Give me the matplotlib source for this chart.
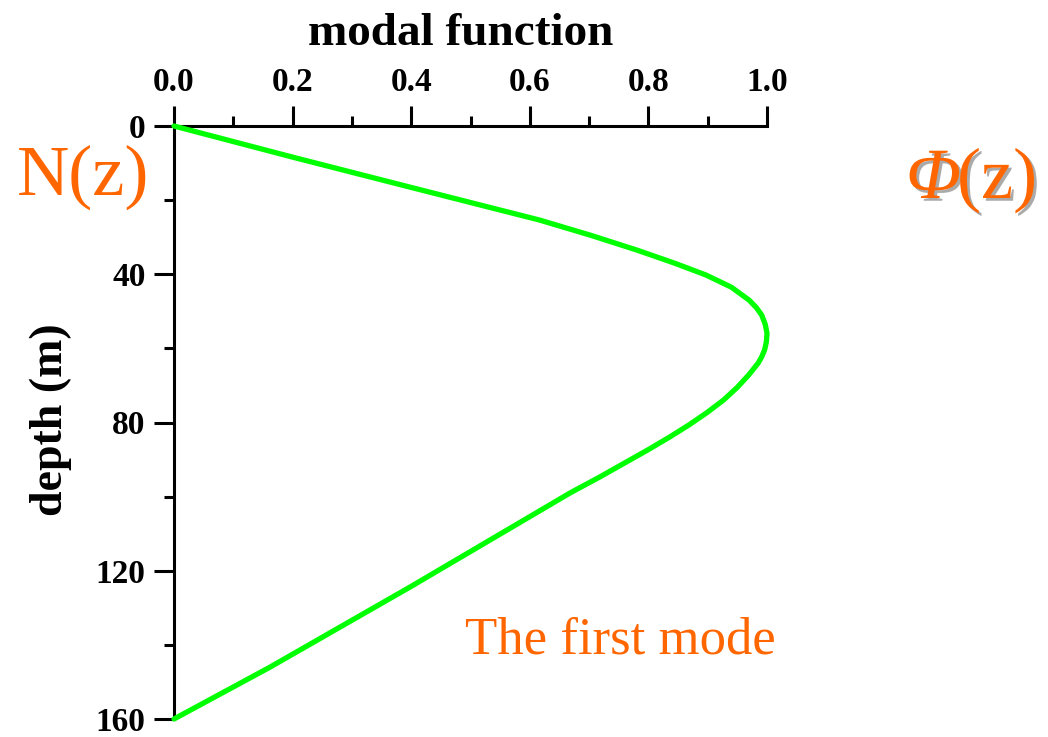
import numpy as np
import matplotlib
matplotlib.use("Agg")
import matplotlib.pyplot as plt
import matplotlib.patheffects as pe
from matplotlib.ticker import MultipleLocator, FormatStrFormatter

# first-mode profile, depth (m) against normalised amplitude
depth = [0, 8.4, 16.7, 25.4, 29.5, 33.5, 37.0, 40.2, 43.5, 47.0, 49.0,
         51.0, 53.5, 55.9, 58.2, 60.4, 62.3, 64.0, 67.2, 70.5, 73.9,
         77.3, 80.7, 84.0, 87.4, 94.7, 99.0, 107.0, 124.4, 146.0, 160.0]
phi = [0.0, 0.200, 0.403, 0.617, 0.703, 0.781, 0.844, 0.897, 0.940, 0.970,
       0.982, 0.991, 0.997, 1.0, 0.999, 0.996, 0.991, 0.985, 0.969, 0.950,
       0.927, 0.899, 0.868, 0.835, 0.799, 0.718, 0.668, 0.583, 0.398,
       0.162, 0.0]

x_ticks = [0.0, 0.2, 0.4, 0.6, 0.8, 1.0]
y_ticks = [0, 40, 80, 120, 160]

ORANGE = "#ff6600"
SERIF = "Liberation Serif"

plt.rcParams["font.family"] = SERIF

fig = plt.figure(figsize=(10.48, 7.37), dpi=100)
ax = fig.add_axes([174 / 1048, 1 - 719 / 737, 593 / 1048, 593 / 737])

ax.plot(phi, depth, color="#00ff00", lw=3.8, solid_capstyle="round",
        solid_joinstyle="round", clip_on=False, zorder=3)

ax.set_xlim(0, 1)
ax.set_ylim(160, 0)

for side in ("right", "bottom"):
    ax.spines[side].set_visible(False)
for side in ("left", "top"):
    ax.spines[side].set_linewidth(2.2)

ax.xaxis.tick_top()
ax.set_xticks(x_ticks)
ax.set_yticks(y_ticks)
ax.xaxis.set_minor_locator(MultipleLocator(0.1))
ax.yaxis.set_minor_locator(MultipleLocator(20))
ax.xaxis.set_major_formatter(FormatStrFormatter("%.1f"))
ax.tick_params(which="major", length=14.5, width=2.2, direction="out",
               labelsize=24, pad=6)
ax.tick_params(which="minor", length=7.5, width=2.2, direction="out")
for lab in ax.get_xticklabels() + ax.get_yticklabels():
    lab.set_fontweight("bold")

fig.text(461 / 1048, 1 - 45 / 737, "modal function", ha="center",
         va="baseline", fontsize=34, fontweight="bold")
fig.text(51 / 1048, 1 - 420 / 737, "depth (m)", ha="center", va="center",
         rotation=90, fontsize=33, fontweight="bold")

fig.text(83 / 1048, 1 - 195 / 737, "N(z)", ha="center", va="baseline",
         fontsize=52, color=ORANGE)

shadow = [pe.SimplePatchShadow(offset=(2, -2), shadow_rgbFace="#444444",
                               alpha=0.45), pe.Normal()]
fig.text(961 / 1048, 1 - 198 / 737, "Φ", ha="right", va="baseline",
         fontsize=52, style="italic", color=ORANGE, path_effects=shadow)
fig.text(957 / 1048, 1 - 198 / 737, "(z)", ha="left", va="baseline",
         fontsize=52, color=ORANGE, path_effects=shadow)

fig.text(465 / 1048, 1 - 653 / 737, "The first mode", ha="left",
         va="baseline", fontsize=38, color=ORANGE)

fig.savefig("out.png", dpi=100)
